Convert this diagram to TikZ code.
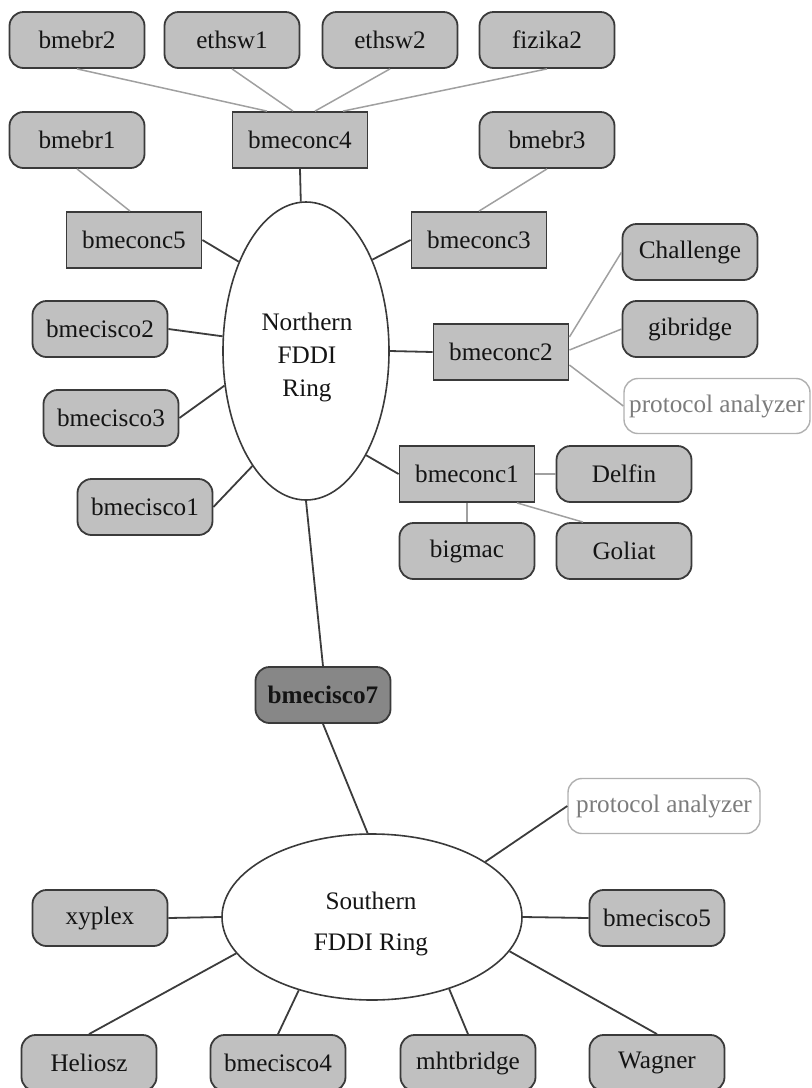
\documentclass[tikz,border=0pt]{standalone}
\usepackage{fontspec}
\setmainfont{Liberation Serif}
\usetikzlibrary{shapes.geometric}

\definecolor{boxfill}{HTML}{C0C0C0}
\definecolor{boxline}{HTML}{3A3A3A}
\definecolor{hubfill}{HTML}{878787}
\definecolor{trunkline}{HTML}{3C3C3C}
\definecolor{spurline}{HTML}{A0A0A0}
\definecolor{probeline}{HTML}{B0B0B0}
\definecolor{probetext}{HTML}{7C7C7C}
\definecolor{labeltext}{HTML}{141414}

\begin{document}
\begin{tikzpicture}[x=0.5pt,y=-0.5pt,
  font=\fontsize{12.6}{15}\selectfont, text=labeltext,
  host/.style={draw=boxline, fill=boxfill, rounded corners=7pt, line width=0.9pt,
    minimum width=67.5pt, minimum height=28pt, inner sep=0pt},
  conc/.style={draw=boxline, fill=boxfill, line width=0.9pt,
    minimum width=67.5pt, minimum height=28pt, inner sep=0pt},
  probe/.style={draw=probeline, fill=white, text=probetext, rounded corners=7pt,
    line width=0.7pt, minimum width=93pt, minimum height=27.5pt, inner sep=0pt},
  router/.style={host, fill=hubfill, font=\fontsize{12.6}{15}\selectfont\bfseries},
  ring/.style={draw=boxline, fill=white, ellipse, line width=0.8pt, inner sep=0pt},
  ringtext/.style={align=center, inner sep=0pt},
  trunk/.style={draw=trunkline, line width=0.9pt},
  spur/.style={draw=spurline, line width=0.75pt}]

\useasboundingbox (0,0) rectangle (811,1088);

% --- northern side hosts and concentrators
\node[host] (bmebr2)  at (77,40)  {bmebr2};
\node[host] (ethsw1)  at (232,40) {ethsw1};
\node[host] (ethsw2)  at (390,40) {ethsw2};
\node[host] (fizika2) at (547,40) {fizika2};
\node[host] (bmebr1)  at (77,140) {bmebr1};
\node[conc] (bmeconc4) at (300,140) {bmeconc4};
\node[host] (bmebr3)  at (547,140) {bmebr3};
\node[conc] (bmeconc5) at (134,240) {bmeconc5};
\node[conc] (bmeconc3) at (479,240) {bmeconc3};
\node[host] (Challenge) at (690,252) {Challenge};
\node[host] (gibridge)  at (690,329) {gibridge};
\node[host] (bmecisco2) at (100,329) {bmecisco2};
\node[conc] (bmeconc2)  at (501,352) {bmeconc2};
\node[probe] (probeN)   at (717,406) {protocol analyzer};
\node[host] (bmecisco3) at (111,418) {bmecisco3};
\node[conc] (bmeconc1)  at (467,474) {bmeconc1};
\node[host] (Delfin)    at (624,474) {Delfin};
\node[host] (bmecisco1) at (145,507) {bmecisco1};
\node[host] (bigmac)    at (467,551) {bigmac};
\node[host] (Goliat)    at (624,551) {Goliat};

% --- northern ring
\node[ring, minimum width=83pt, minimum height=149pt] (north) at (306,351) {};
\node[ringtext, font=\fontsize{12.6}{16.5}\selectfont] (northlabel) at (307,357)
  {Northern\\FDDI\\Ring};

% --- router between the rings
\node[router] (bmecisco7) at (323,695) {bmecisco7};

% --- southern side
\node[probe, minimum width=96pt] (probeS) at (664,806) {protocol analyzer};
\node[ring, minimum width=150pt, minimum height=83pt] (south) at (372,917) {};
\node[ringtext, font=\fontsize{12.6}{20.5}\selectfont] (southlabel) at (371,924)
  {Southern\\FDDI Ring};
\node[host] (xyplex)    at (100,918)  {xyplex};
\node[host] (bmecisco5) at (657,918)  {bmecisco5};
\node[host] (Heliosz)   at (89,1063)  {Heliosz};
\node[host] (bmecisco4) at (278,1063) {bmecisco4};
\node[host] (mhtbridge) at (468,1063) {mhtbridge};
\node[host] (Wagner)    at (657,1063) {Wagner};

% --- links behind the concentrators
\draw[spur] (bmebr2.south)  -- ([xshift=-16.5pt]bmeconc4.north);
\draw[spur] (ethsw1.south)  -- ([xshift=-3.5pt]bmeconc4.north);
\draw[spur] (ethsw2.south)  -- ([xshift=7.5pt]bmeconc4.north);
\draw[spur] (fizika2.south) -- ([xshift=21.5pt]bmeconc4.north);
\draw[spur] (bmebr1.south)  -- ([xshift=-2pt]bmeconc5.north);
\draw[spur] (bmebr3.south)  -- (bmeconc3.north);
\draw[spur] ([yshift=7.5pt]bmeconc2.east)  -- (Challenge.west);
\draw[spur] ([yshift=1pt]bmeconc2.east)    -- (gibridge.west);
\draw[spur] ([yshift=-6.5pt]bmeconc2.east) -- (probeN.west);
\draw[spur] (bmeconc1.east)  -- (Delfin.west);
\draw[spur] (bmeconc1.south) -- (bigmac.north);
\draw[spur] ([xshift=25pt]bmeconc1.south) -- ([xshift=-20.5pt]Goliat.north);

% --- northern ring attachments
\draw[trunk] (bmeconc4.south)  -- (north.92);
\draw[trunk] (bmeconc5.east)   -- (north.127);
\draw[trunk] (bmeconc3.west)   -- (north.54.5);
\draw[trunk] (bmecisco2.east)  -- (north.170);
\draw[trunk] (bmecisco3.east)  -- (north.203);
\draw[trunk] (bmecisco1.east)  -- (north.245);
\draw[trunk] (north.0)         -- (bmeconc2.west);
\draw[trunk] (north.300)       -- (bmeconc1.west);
\draw[trunk] (north.270)       -- (bmecisco7.north);

% --- southern ring attachments
\draw[trunk] (bmecisco7.south) -- (south.93.4);
\draw[trunk] (south.26.6)      -- (probeS.west);
\draw[trunk] (xyplex.east)     -- (south.180);
\draw[trunk] (south.0)         -- (bmecisco5.west);
\draw[trunk] (Heliosz.north)   -- (south.195.5);
\draw[trunk] (bmecisco4.north) -- (south.225);
\draw[trunk] (mhtbridge.north) -- (south.317);
\draw[trunk] (Wagner.north)    -- (south.346);
\end{tikzpicture}
\end{document}
